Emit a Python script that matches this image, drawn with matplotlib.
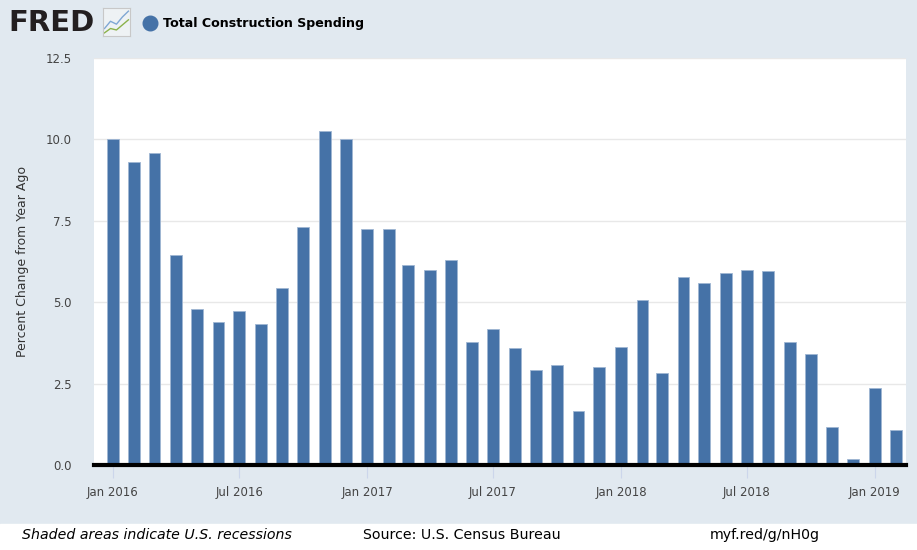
import numpy as np
import pandas as pd
import matplotlib
matplotlib.use("Agg")
import matplotlib.pyplot as plt
from matplotlib.patches import Rectangle
from matplotlib.lines import Line2D

# DATA: Total Construction Spending, percent change from year ago
meses = pd.date_range("2016-01-01", "2019-02-01", freq="MS")
valores = [10.02, 9.31, 9.59, 6.44, 4.80, 4.39, 4.72, 4.33, 5.44, 7.31, 10.27, 10.02,
           7.26, 7.26, 6.13, 6.00, 6.31, 3.79, 4.19, 3.58, 2.93, 3.07, 1.67, 3.02,
           3.63, 5.08, 2.82, 5.78, 5.59, 5.89, 6.00, 5.95, 3.78, 3.41, 1.18, 0.18,
           2.38, 1.07]
ticks_x = pd.to_datetime(["2016-01-01", "2016-07-01", "2017-01-01", "2017-07-01",
                          "2018-01-01", "2018-07-01", "2019-01-01"])
rotulos_x = ["Jan 2016", "Jul 2016", "Jan 2017", "Jul 2017", "Jan 2018", "Jul 2018", "Jan 2019"]
ticks_y = [0.0, 2.5, 5.0, 7.5, 10.0, 12.5]

titulo = "Total Construction Spending"
rotulo_y = "Percent Change from Year Ago"
rodape = ["Shaded areas indicate U.S. recessions", "Source: U.S. Census Bureau", "myf.red/g/nH0g"]

FUNDO = "#e1e9f0"
AZUL = "#4572a7"

plt.rcParams['font.family'] = ['DejaVu Sans']

fig = plt.figure(figsize=(9.17, 5.5), dpi=100, facecolor=FUNDO)
ax = fig.add_axes([0.1025, 0.1545, 0.8855, 0.74])
ax.set_facecolor("white")

# BARRAS
ax.bar(meses, valores, width=17, color=AZUL, edgecolor="#9fb6d3", linewidth=0.6, zorder=3)

# EIXOS
ax.set_xlim(pd.Timestamp("2015-12-05"), pd.Timestamp("2019-02-15"))
ax.set_ylim(0, 12.5)
ax.set_yticks(ticks_y)
ax.set_yticklabels([f"{v:.1f}" for v in ticks_y], fontsize=8.5, color="#444444")
ax.set_xticks(ticks_x)
ax.set_xticklabels(rotulos_x, fontsize=8.5, color="#444444")
ax.tick_params(axis="y", length=0, pad=16)
ax.tick_params(axis="x", length=9, width=0.8, color="#ccd6eb", pad=6, direction="out")
ax.grid(axis="y", color="#e8e8e8", linewidth=1, zorder=0)
for lado in ["left", "right", "top"]:
    ax.spines[lado].set_visible(False)
ax.spines["bottom"].set_color("black")
ax.spines["bottom"].set_linewidth(3)
ax.spines["bottom"].set_zorder(5)
ax.set_ylabel(rotulo_y, fontsize=9, color="#333333", labelpad=12)

# CABEÇALHO
fig.text(0.009, 0.958, "FRED", fontsize=21, fontweight="heavy", color="#231f20",
         va="center", ha="left")
icone = fig.add_axes([0.112, 0.935, 0.030, 0.05])
icone.set_facecolor("#eef2f4")
icone.plot([0, 1, 2, 3, 4], [1, 2, 1.6, 2.6, 3.4], color="#7fa7d4", lw=1)
icone.plot([0, 1, 2, 3, 4], [0.4, 1.0, 0.8, 1.5, 2.2], color="#8bb24a", lw=1)
icone.set_xlim(-0.3, 4.3)
icone.set_ylim(0, 3.8)
icone.set_xticks([])
icone.set_yticks([])
for s in icone.spines.values():
    s.set_color("#c8c8c8")
fig.add_artist(Line2D([0.1635], [0.959], marker="o", markersize=10.5, color=AZUL,
                      linestyle="none", transform=fig.transFigure))
fig.text(0.178, 0.958, titulo, fontsize=9.1, fontweight="bold", color="black",
         va="center", ha="left")

# RODAPÉ
fig.patches.append(Rectangle((0, 0), 1, 0.048, transform=fig.transFigure,
                             color="white", zorder=0))
fig.text(0.024, 0.027, rodape[0], fontsize=10.2, style="italic", va="center", ha="left")
fig.text(0.396, 0.027, rodape[1], fontsize=10.2, va="center", ha="left")
fig.text(0.774, 0.027, rodape[2], fontsize=10.2, va="center", ha="left")

fig.savefig("out.png", dpi=100, facecolor=FUNDO)
